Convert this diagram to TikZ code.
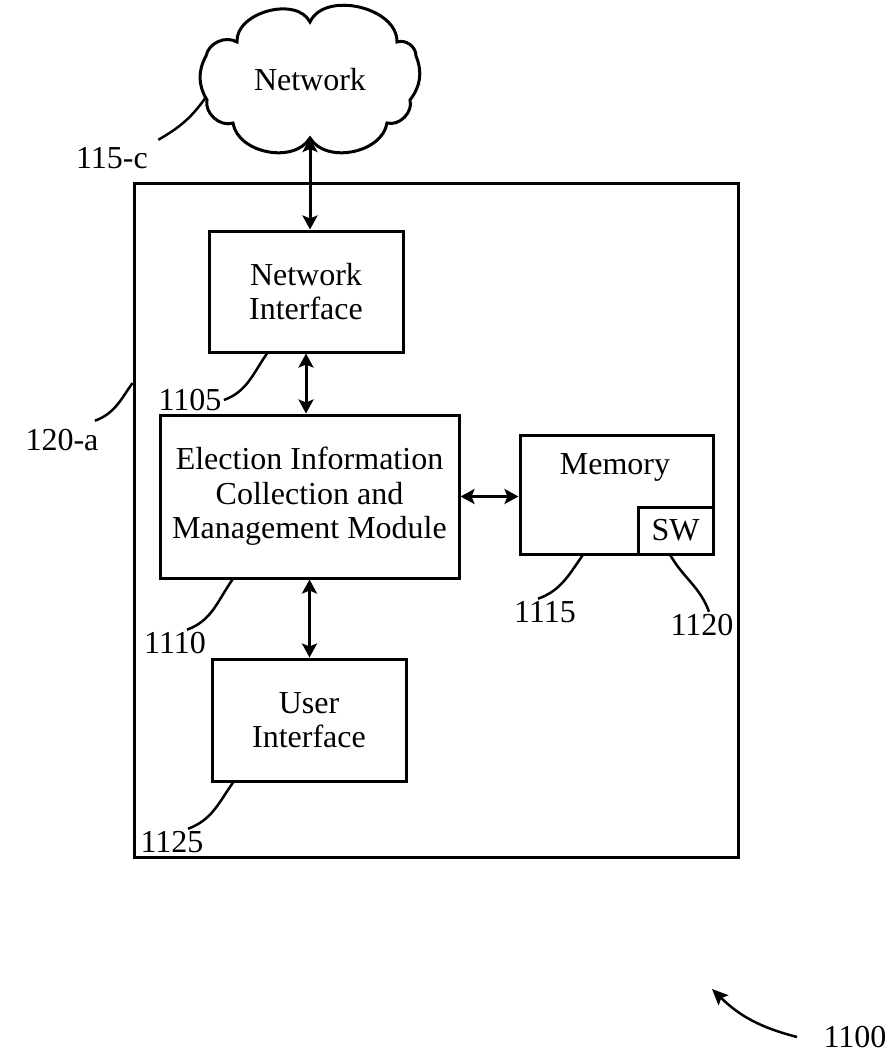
\documentclass[tikz,border=0pt]{standalone}
\usepackage{fontspec}
\setmainfont{Liberation Serif}
\usetikzlibrary{arrows.meta}
\begin{document}
\begin{tikzpicture}[x=1pt,y=1pt,line width=3pt,
  every node/.style={font=\fontsize{32}{34.5}\selectfont},
  main box/.style={rectangle,draw,align=center,inner sep=0pt},
  num node/.style={inner sep=1pt},
  link/.style={{Stealth[length=14pt,width=15pt,inset=3pt]}-{Stealth[length=14pt,width=15pt,inset=3pt]}},
  leader/.style={line width=2.5pt}]
\useasboundingbox (0,0) rectangle (893,-1057);
\begin{scope}
\node[inner sep=0pt,minimum width=218,minimum height=150] (network) at (310,-80) {Network};%115-c
\node[main box,minimum width=604,minimum height=674] (device) at (436,-520) {};%120-a
\node[main box,minimum width=194,minimum height=121] (ni) at (306,-291.5) {Network\\Interface};%1105
\node[main box,minimum width=299,minimum height=163] (emodule) at (309.5,-496.5) {Election Information\\Collection and\\Management Module};%1110
\node[main box,minimum width=193,minimum height=119] (memory) at (616.5,-494.5) {};%1115
\node (memtext) at (615,-467) {Memory};
\node[main box,minimum width=75,minimum height=47] (sw) at (675.5,-530.5) {SW};%1120
\node[main box,minimum width=194,minimum height=122] (ui) at (309,-720) {User\\Interface};%1125
\end{scope}
% cloud outline round the network node
\begin{scope}[shift={(network.center)}]
\draw (0,58) to[bend right=78] (-73,38) to[bend right=55] (-104,24)
  to[bend right=30] (-103,-20) to[bend right=60] (-77,-43)
  to[bend right=70] (0,-58) to[bend right=70] (77,-43)
  to[bend right=60] (100,-20) to[bend right=30] (106,24)
  to[bend right=55] (87,38) to[bend right=78] cycle;
\end{scope}
\begin{scope}[every node/.style={num node,font=\fontsize{32}{34.5}\selectfont}]
\node (l115c) at (112,-158) {115-c};
\node (l120a) at (62,-440) {120-a};
\node (l1105) at (190,-400) {1105};
\node (l1110) at (175,-643) {1110};
\node (l1125) at (172,-842) {1125};
\node (l1115) at (545,-612) {1115};
\node (l1120) at (702,-625) {1120};
\node (l1100) at (855,-1037) {1100};
\coordinate (fig) at (712,-989);
\end{scope}
% arrows
\draw[link] ([yshift=-58pt]network.center) -- (ni.north -| network.center);
\draw[link] (ni.south) -- (ni.south |- emodule.north);
\draw[link] (emodule.east) -- (emodule.east -| memory.west);
\draw[link] (emodule.south) -- (emodule.south |- ui.north);
% leaders
\begin{scope}[every path/.style={leader}]
\draw ([shift={(8,5)}]l115c.north east) to[out=30,in=235] ([shift={(-104,-17)}]network.center);
\draw ([shift={(-6,6)}]l120a.north east) to[out=20,in=235] ([yshift=137pt]device.west);
\draw (l1105.east) to[out=20,in=235] ([xshift=-39pt]ni.south);
\draw ([xshift=12pt]l1110.north) to[out=20,in=235] ([xshift=-77pt]emodule.south);
\draw ([xshift=16pt]l1125.north) to[out=20,in=235] ([xshift=-76pt]ui.south);
\draw ([xshift=-7pt]l1115.north) to[out=20,in=235] ([xshift=-34pt]memory.south);
\draw ([xshift=7pt]l1120.north) to[out=110,in=-60] ([xshift=-5pt]sw.south);
\draw[-{Stealth[length=16pt,width=14pt,inset=3pt]}] ([xshift=-24pt]l1100.west) to[bend left=15] (fig);
\end{scope}
\end{tikzpicture}
\end{document}
